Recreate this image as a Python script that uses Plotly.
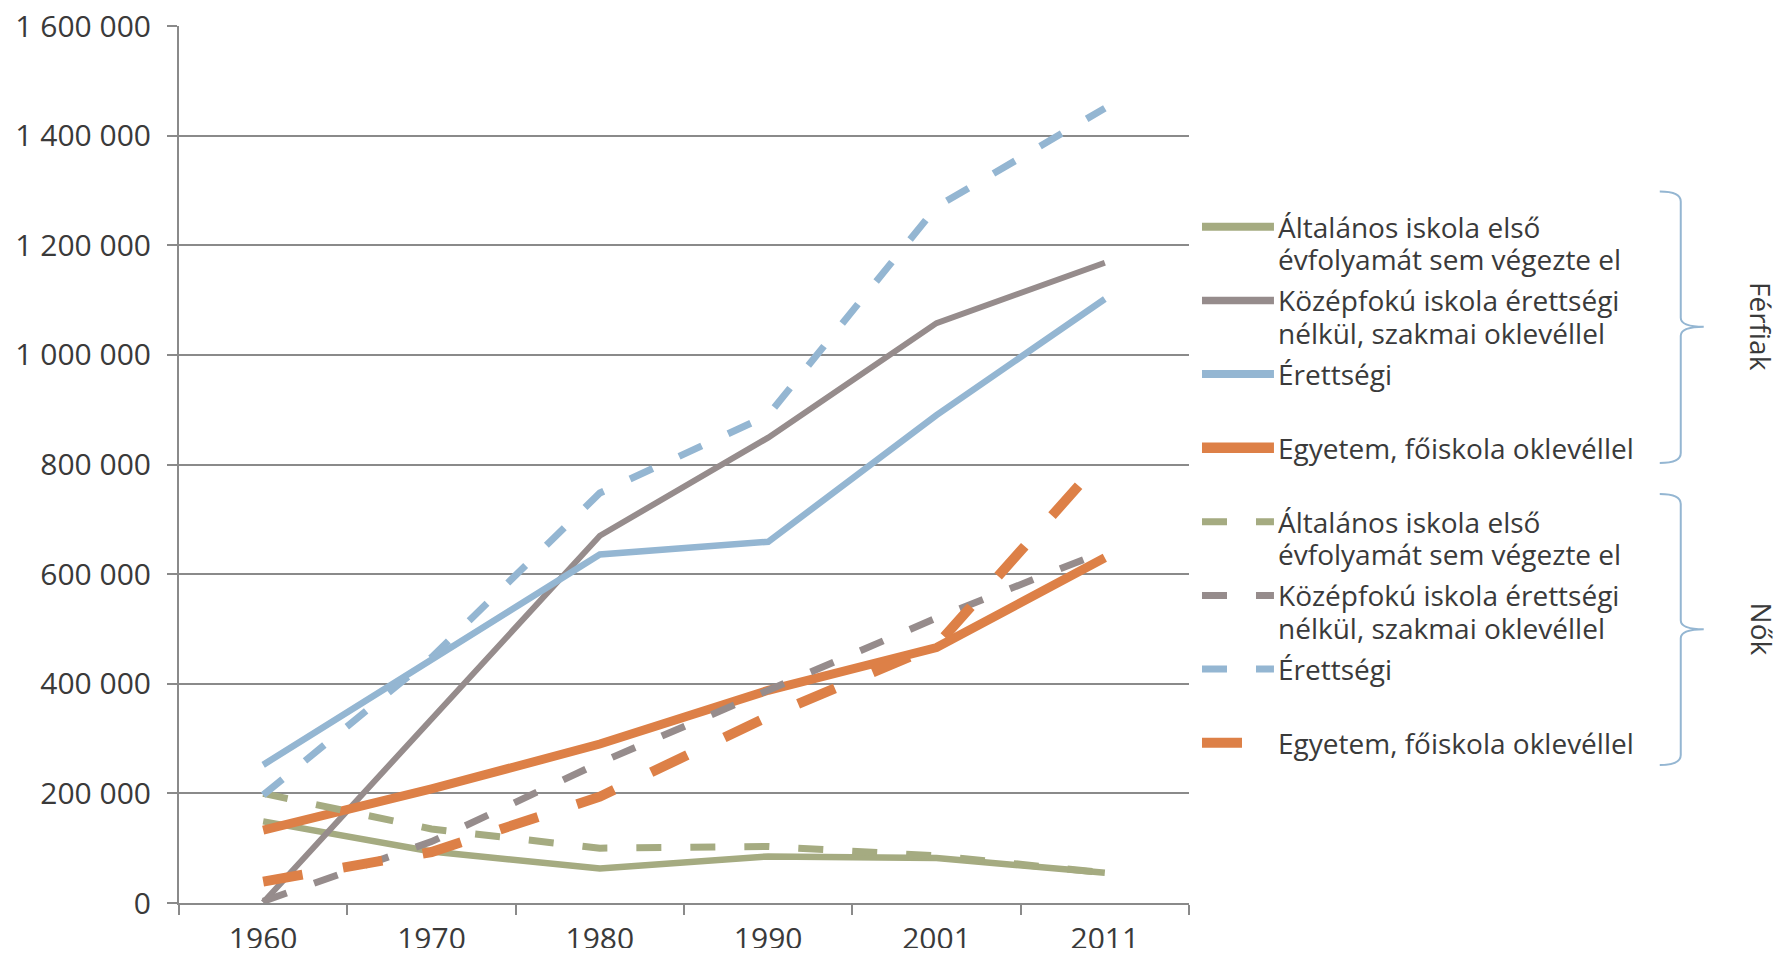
import plotly.graph_objects as go

# ---------------- data ----------------
years = ["1960", "1970", "1980", "1990", "2001", "2011"]

ferfi_altalanos = [149000, 94000, 63000, 85000, 82000, 55000]
ferfi_kozepfoku = [1000, 335000, 670000, 849000, 1058000, 1168000]
ferfi_erettsegi = [252000, 444000, 636000, 659000, 890000, 1102000]
ferfi_egyetem = [133000, 208000, 290000, 388000, 466000, 630000]

noi_altalanos = [200000, 135000, 100000, 103000, 86000, 55000]
noi_kozepfoku = [3000, 112000, 256000, 387000, 520000, 642000]
noi_erettsegi = [197000, 448000, 748000, 890000, 1270000, 1450000]
noi_egyetem = [39000, 93000, 194000, 340000, 470000, 815000]

y_tickvals = [0, 200000, 400000, 600000, 800000, 1000000, 1200000, 1400000, 1600000]
y_ticktext = ["0", "200 000", "400 000", "600 000", "800 000",
              "1 000 000", "1 200 000", "1 400 000", "1 600 000"]

legend_labels = [
    ["Általános iskola első", "évfolyamát sem végezte el"],
    ["Középfokú iskola érettségi", "nélkül, szakmai oklevéllel"],
    ["Érettségi"],
    ["Egyetem, főiskola oklevéllel"],
]
group_labels = ["Férfiak", "Nők"]

# ---------------- styles ----------------
GREEN, GRAY, BLUE, ORANGE = "#A5AB81", "#968C8C", "#94B6D2", "#DD8047"
colors = [GREEN, GRAY, BLUE, ORANGE]
solid_widths = [6.5, 6, 6.5, 9]
dash_widths = [7, 7, 7, 10]
dash_patterns = ["25px,29px", "25px,29px", "25px,29px", "40px,41px"]
TEXT = "#3A3A3A"
AXIS = "#8A8A8A"
FONT = "Open Sans"
FS_AXIS = 30
FS_LEG = 28

OFF = 8                      # default page margin of the html body
W, H = 1783 - 2 * OFF, 956 - 2 * OFF
# plot area in page pixels: x 178.5..1189, y 26..903
L, R, T, B = 178.5 - OFF, (W + OFF) - 1189, 26 - OFF, (H + OFF) - 903
PW, PH = W - L - R, H - T - B


def px(x):   # page pixel -> paper x
    return (x - OFF - L) / PW


def py(y):   # page pixel -> paper y
    return (H - B - (y - OFF)) / PH


fig = go.Figure()

men = [ferfi_altalanos, ferfi_kozepfoku, ferfi_erettsegi, ferfi_egyetem]
women = [noi_altalanos, noi_kozepfoku, noi_erettsegi, noi_egyetem]

for i, vals in enumerate(men):
    fig.add_trace(go.Scatter(
        x=years, y=vals, mode="lines",
        name=" ".join(legend_labels[i]) + " (" + group_labels[0] + ")",
        line=dict(color=colors[i], width=solid_widths[i]),
        showlegend=False))

for i, vals in enumerate(women):
    fig.add_trace(go.Scatter(
        x=years, y=vals, mode="lines",
        name=" ".join(legend_labels[i]) + " (" + group_labels[1] + ")",
        line=dict(color=colors[i], width=dash_widths[i], dash=dash_patterns[i]),
        showlegend=False))

# ---------------- manual legend ----------------
shapes = []
annotations = []
group_tops = [226.7, 521.7]
entry_step = 73.7
line_step = 32.6
for g, top in enumerate(group_tops):
    for i, lines in enumerate(legend_labels):
        yc = top + i * entry_step
        if g == 0:
            ln = dict(color=colors[i], width=solid_widths[i] + 1.5)
        else:
            ln = dict(color=colors[i], width=dash_widths[i], dash=dash_patterns[i])
        shapes.append(dict(type="line", xref="paper", yref="paper",
                           x0=px(1202), x1=px(1274), y0=py(yc), y1=py(yc),
                           line=ln))
        for j, txt in enumerate(lines):
            annotations.append(dict(
                xref="paper", yref="paper", x=px(1276), y=py(yc + j * line_step),
                xanchor="left", yanchor="middle", text=txt, showarrow=False,
                font=dict(family=FONT, size=FS_LEG, color=TEXT)))

# brackets
brackets = [(191.5, 326.7, 463), (494, 629.3, 765)]
xl, xv, xt = 1660, 1681, 1704
for (y0, ym, y1), lab in zip(brackets, group_labels):
    pts = (f"M {px(xl)},{py(y0)} Q {px(xv)},{py(y0)} {px(xv)},{py(y0 + 10)} "
           f"L {px(xv)},{py(ym - 9)} Q {px(xv)},{py(ym)} {px(xt)},{py(ym)} "
           f"Q {px(xv)},{py(ym)} {px(xv)},{py(ym + 9)} "
           f"L {px(xv)},{py(y1 - 10)} Q {px(xv)},{py(y1)} {px(xl)},{py(y1)}")
    shapes.append(dict(type="path", xref="paper", yref="paper", path=pts,
                       line=dict(color=BLUE, width=2)))
    annotations.append(dict(
        xref="paper", yref="paper", x=px(1762), y=py(ym),
        xanchor="center", yanchor="middle", text=lab, textangle=90,
        showarrow=False, font=dict(family=FONT, size=FS_LEG, color=TEXT)))

fig.update_layout(
    width=W, height=H,
    margin=dict(l=L, r=R, t=T, b=B, autoexpand=False),
    paper_bgcolor="white", plot_bgcolor="white",
    showlegend=False,
    font=dict(family=FONT, size=FS_AXIS, color=TEXT),
    shapes=shapes, annotations=annotations,
    xaxis=dict(type="category", range=[-0.5, 5.5], tickson="boundaries",
               ticks="outside", ticklen=10, tickwidth=2, tickcolor=AXIS,
               showline=True, linecolor=AXIS, linewidth=2, showgrid=False,
               tickfont=dict(family=FONT, size=FS_AXIS, color=TEXT),
               ticklabelstandoff=8, ticklabeloverflow="allow",
               automargin=False, fixedrange=True),
    yaxis=dict(range=[0, 1600000], tickmode="array", tickvals=y_tickvals,
               ticktext=y_ticktext, ticks="outside", ticklen=10, tickwidth=2,
               tickcolor=AXIS, showline=True, linecolor=AXIS, linewidth=2,
               showgrid=True, gridcolor=AXIS, gridwidth=2, zeroline=False,
               tickfont=dict(family=FONT, size=FS_AXIS, color=TEXT),
               ticklabelstandoff=10, ticklabeloverflow="allow",
               automargin=False, fixedrange=True),
)

fig.write_html("out.html")
